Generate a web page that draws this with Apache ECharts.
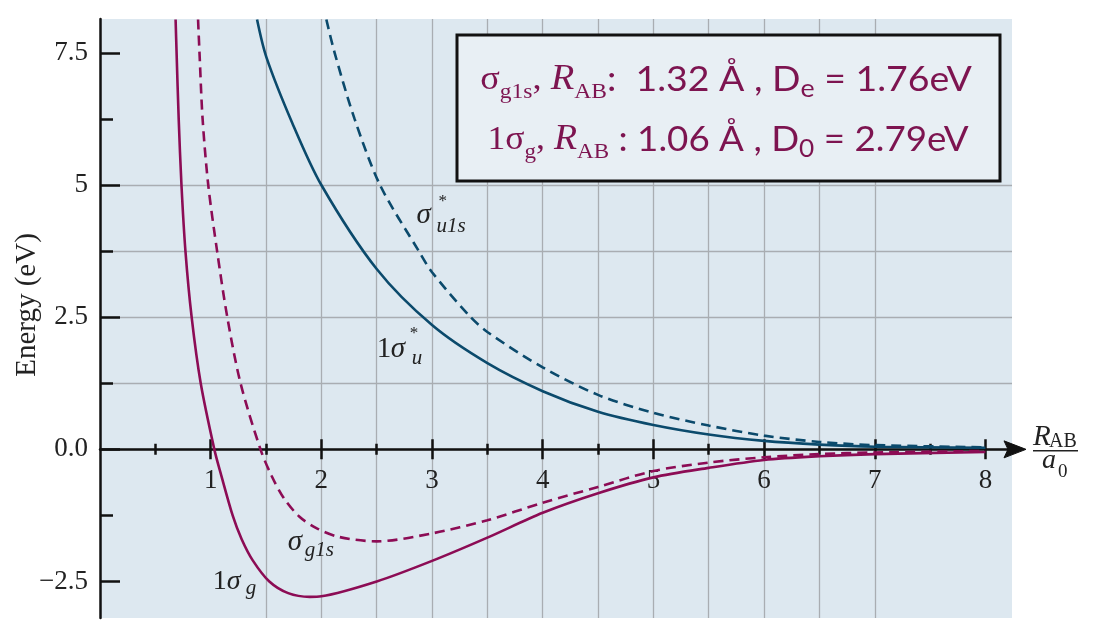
<!DOCTYPE html>
<html><head><meta charset="utf-8">
<script src="https://cdn.jsdelivr.net/npm/echarts@6/dist/echarts.min.js"></script>
<style>html,body{margin:0;padding:0;background:#fff}#c{width:1095px;height:632px}</style>
</head><body><div id="c"></div>
<script>
// ---------------- data ----------------
const xMajorTicks = [1, 2, 3, 4, 5, 6, 7, 8];
const xHalfTicks = [0.5, 1.5, 2.5, 3.5, 4.5, 5.5, 6.5, 7.5];
const yMajorTicks = [-2.5, 0, 2.5, 5, 7.5];
const yMajorLabels = ['\u22122.5', '0.0', '2.5', '5', '7.5'];
const yMinorTicks = [-1.25, 1.25, 3.75, 6.25];

// 1σg (solid purple)
const g1_x = [0.683, 0.692, 0.711, 0.736, 0.772, 0.828, 0.910, 1.033, 1.09, 1.20, 1.28, 1.38, 1.53, 1.70, 1.895, 2.0, 2.5, 3.0, 3.5, 4.0, 4.5, 5.0, 5.5, 6.0, 6.5, 7.0, 8.0];
const g1_y = [8.13, 7.5, 6.25, 5.0, 3.75, 2.5, 1.25, 0.0, -0.45, -1.26, -1.70, -2.10, -2.50, -2.72, -2.79, -2.78, -2.50, -2.11, -1.67, -1.20, -0.83, -0.53, -0.35, -0.20, -0.13, -0.09, -0.05];
// σg1s (dashed purple)
const gs_x = [0.886, 0.899, 0.927, 0.978, 1.058, 1.15, 1.27, 1.45, 1.55, 1.66, 1.80, 1.955, 2.166, 2.5, 3.0, 3.5, 4.0, 4.5, 5.0, 5.5, 6.0, 6.5, 7.0, 8.0];
const gs_y = [8.13, 7.5, 6.25, 5.0, 3.75, 2.5, 1.25, 0.0, -0.50, -0.92, -1.27, -1.49, -1.66, -1.74, -1.59, -1.34, -1.01, -0.71, -0.41, -0.25, -0.15, -0.09, -0.06, -0.03];
// 1σu* (solid blue)
const u1_x = [1.419, 1.503, 1.738, 2.0, 2.5, 3.0, 3.5, 4.0, 4.5, 5.0, 5.5, 6.0, 6.5, 7.0, 8.0];
const u1_y = [8.13, 7.42, 6.17, 5.0, 3.41, 2.35, 1.63, 1.10, 0.71, 0.46, 0.28, 0.16, 0.09, 0.05, 0.03];
// σu1s* (dashed blue)
const us_x = [2.045, 2.12, 2.30, 2.53, 2.88, 3.0, 3.34, 3.5, 4.0, 4.5, 5.0, 5.5, 6.0, 6.5, 7.0, 8.0];
const us_y = [8.13, 7.5, 6.25, 5.0, 3.75, 3.35, 2.52, 2.22, 1.55, 1.03, 0.69, 0.45, 0.26, 0.14, 0.08, 0.04];

const pairs = (xs, ys) => xs.map((v, i) => [v, ys[i]]);

// ---------------- style ----------------
const PURPLE = '#8c0c55';
const BLUE = '#0b4a6c';
const BOXTXT = '#7d1450';
const SERIF = '"Liberation Serif", "DejaVu Serif", serif';
const SANS = 'Lato, "Open Sans", sans-serif';
const GRIDC = '#a9adb2';
const X_MIN = 0, X_MAX = 8.24, Y_MIN = -3.19, Y_MAX = 8.14;
const GRID = {left: 100, top: 19, right: 83, bottom: 14};

const chart = echarts.init(document.getElementById('c'), null, {renderer: 'canvas'});

function xAxisDef(ticks, inside, len, showLine, showSplit) {
  return {
    type: 'value', min: X_MIN, max: X_MAX, position: 'bottom',
    axisLine: {show: showLine, onZero: true, onZeroAxisIndex: 0,
      lineStyle: {color: '#111', width: 2.5}},
    axisTick: {show: true, inside: inside, length: len, customValues: ticks,
      lineStyle: {color: '#111', width: 2.5}},
    axisLabel: {show: false},
    splitLine: {show: showSplit, showMinLine: false, showMaxLine: false,
      lineStyle: {color: GRIDC, width: 1.3}}
  };
}
// separate axis that only carries the x tick labels (moved up to the zero line)
const xLabelAxis = {
  type: 'value', min: X_MIN, max: X_MAX, position: 'bottom', offset: 0,
  axisLine: {show: false, onZero: false}, axisTick: {show: false}, splitLine: {show: false},
  axisLabel: {show: true, customValues: xMajorTicks, margin: 18, hideOverlap: false,
    fontFamily: SERIF, fontSize: 27, color: '#222', formatter: v => String(v)}
};
function yAxisDef(ticks, len, showLine, showLabel) {
  return {
    type: 'value', min: Y_MIN, max: Y_MAX, position: 'left',
    axisLine: {show: showLine, onZero: false, lineStyle: {color: '#111', width: 2.5}},
    axisTick: {show: true, inside: true, length: len, customValues: ticks,
      lineStyle: {color: '#111', width: 2.5}},
    axisLabel: {show: showLabel, customValues: ticks, margin: 12,
      fontFamily: SERIF, fontSize: 27, color: '#222',
      formatter: v => { const i = yMajorTicks.indexOf(v); return i >= 0 ? yMajorLabels[i] : ''; }},
    splitLine: {show: true, showMinLine: false, showMaxLine: false,
      lineStyle: {color: GRIDC, width: 1.3}}
  };
}

function lineSeries(name, data, color, dashed) {
  return {
    name, type: 'line', data, showSymbol: false, smooth: 0.3,
    xAxisIndex: 0, yAxisIndex: 0, z: 3,
    lineStyle: {color, width: 2.6, type: dashed ? [10, 6] : 'solid'},
    emphasis: {disabled: true}
  };
}

const option = {
  animation: false,
  backgroundColor: '#ffffff',
  grid: Object.assign({show: true, backgroundColor: '#dde8f0', borderWidth: 0,
    outerBoundsMode: 'none', containLabel: false}, GRID),
  xAxis: [
    xAxisDef(xMajorTicks, false, 10, true, true),
    xAxisDef(xMajorTicks, true, 10, false, false),
    xAxisDef(xHalfTicks, false, 5.5, false, true),
    xAxisDef(xHalfTicks, true, 5.5, false, false),
    xLabelAxis
  ],
  yAxis: [
    yAxisDef(yMajorTicks, 20, true, true),
    yAxisDef(yMinorTicks, 13, false, false)
  ],
  series: [
    lineSeries('1σg', pairs(g1_x, g1_y), PURPLE, false),
    lineSeries('σg1s', pairs(gs_x, gs_y), PURPLE, true),
    lineSeries('1σu*', pairs(u1_x, u1_y), BLUE, false),
    lineSeries('σu1s*', pairs(us_x, us_y), BLUE, true)
  ]
};
chart.setOption(option);

// move the label axis to the zero line
const zeroY = chart.convertToPixel({yAxisIndex: 0}, 0);
const gridBottomY = 632 - GRID.bottom;
chart.setOption({xAxis: [{}, {}, {}, {}, {offset: zeroY - gridBottomY}]});

// ---------------- annotations ----------------
function t(text, x, y, size, italic, color, family) {
  return {type: 'text', x, y, z: 50, silent: true,
    style: {text, fontSize: size, fontFamily: family || SERIF, fontStyle: italic ? 'italic' : 'normal',
      fill: color || '#222', align: 'left', verticalAlign: 'middle'}};
}
// curve labels: anchor (data coords) + pieces [text, dx, dy, size, italic]
const curveLabels = [
  {at: [2.86, 4.43], parts: [['σ', 0, 0, 29, true], ['u1s', 20, 11, 21, true], ['*', 22, -14, 17, false]]},
  {at: [2.50, 1.90], parts: [['1', 0, 0, 29, false], ['σ', 14, 0, 29, true], ['u', 35, 10, 21, true], ['*', 33, -15, 17, false]]},
  {at: [1.696, -1.752], parts: [['σ', 0, 0, 29, true], ['g1s', 17, 9, 21, true]]},
  {at: [1.018, -2.51], parts: [['1', 0, 0, 28, false], ['σ', 14, 0, 28, true], ['g', 33, 6, 21, true]]}
];
const graphics = [];
curveLabels.forEach(l => {
  const p = chart.convertToPixel({gridIndex: 0}, l.at);
  graphics.push({type: 'group', x: p[0], y: p[1], z: 50,
    children: l.parts.map(q => t(q[0], q[1], q[2], q[3], q[4]))});
});

// axis end: arrow head + name R_AB / a_0, placed relative to the axis end
const endPx = chart.convertToPixel({gridIndex: 0}, [X_MAX, 0]);
graphics.push({type: 'group', x: endPx[0], y: endPx[1], z: 50, children: [
  {type: 'polygon', z: 45, shape: {points: [[14, 0], [-8, -8.5], [-4, 0], [-8, 8.5]]},
    style: {fill: '#111', stroke: '#111', lineWidth: 1}},
  t('R', 21, -12, 29, true),
  t('AB', 37, -8, 20, false),
  {type: 'line', z: 50, shape: {x1: 21, y1: 1.5, x2: 66, y2: 1.5}, style: {stroke: '#222', lineWidth: 1.5}},
  t('a', 30, 11, 28, true),
  t('0', 46, 23, 19, false)
]});

// y axis name
graphics.push({type: 'text', x: 27, y: 305, rotation: Math.PI / 2, z: 50,
  style: {text: 'Energy (eV)', fontSize: 29, fontFamily: SERIF, fill: '#222', align: 'center', verticalAlign: 'middle'}});

// info box
const rich = {
  s: {fontFamily: SERIF, fontSize: 34, fill: BOXTXT},
  ri: {fontFamily: SERIF, fontSize: 36, fontStyle: 'italic', fill: BOXTXT},
  sub: {fontFamily: SERIF, fontSize: 22, fill: BOXTXT, padding: [24, 0, 0, 0]},
  a: {fontFamily: SANS, fontSize: 35, fill: BOXTXT},
  asub: {fontFamily: SANS, fontSize: 25, fill: BOXTXT, padding: [18, 0, 0, 0]}
};
graphics.push({type: 'rect', z: 40, shape: {x: 457, y: 35, width: 543, height: 146},
  style: {fill: '#e8eff4', stroke: '#111', lineWidth: 3}});
graphics.push({type: 'text', z: 50, x: 726, y: 80, scaleX: 1.07, originX: 0, originY: 0,
  style: {text: '{s|σ}{sub|g1s}{s|, }{ri|R}{sub|AB}{a|:  1.32 Å , D}{asub|e}{a| = 1.76eV}',
    rich, align: 'center', verticalAlign: 'middle'}});
graphics.push({type: 'text', z: 50, x: 728, y: 140, scaleX: 1.05, originX: 0, originY: 0,
  style: {text: '{s|1σ}{sub|g}{s|, }{ri|R}{sub|AB}{a| : 1.06 Å , D}{asub|0}{a| = 2.79eV}',
    rich, align: 'center', verticalAlign: 'middle'}});

chart.setOption({graphic: graphics});
</script>
</body></html>
